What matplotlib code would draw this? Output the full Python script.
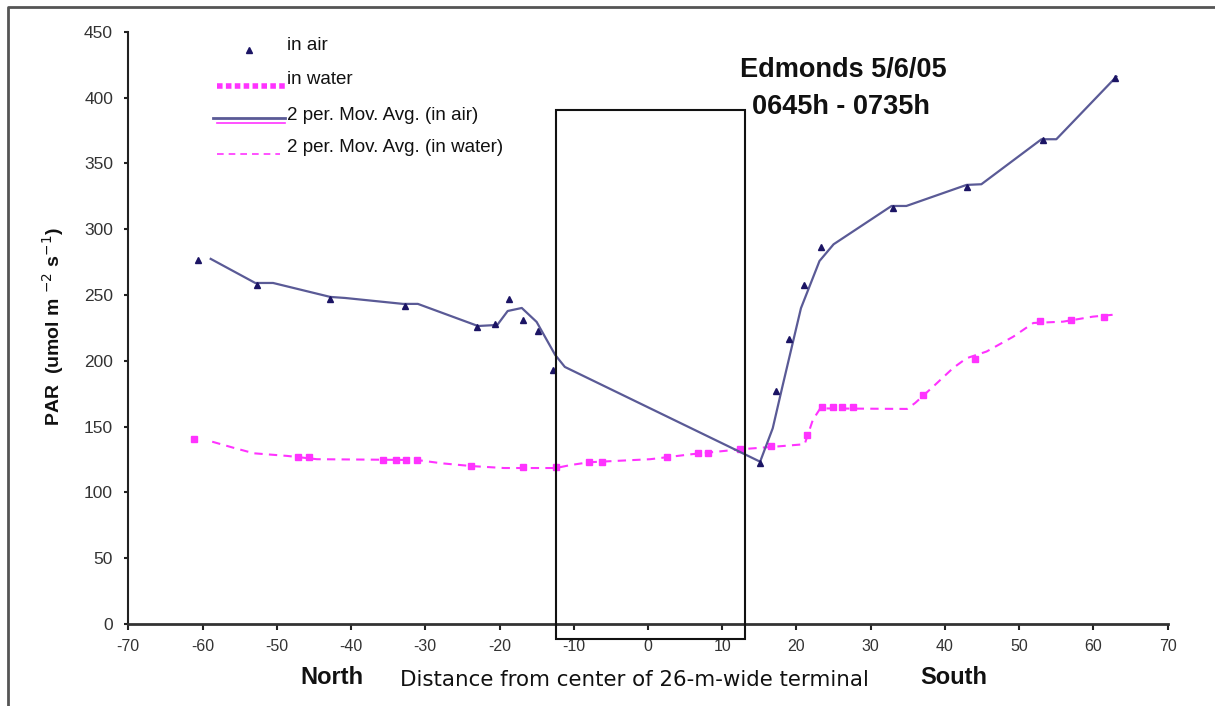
import matplotlib
matplotlib.use("Agg")
import matplotlib.pyplot as plt
from matplotlib.lines import Line2D
from matplotlib.patches import Rectangle

# ---------------- data ----------------
air_x = [-60.6, -52.7, -42.8, -32.7, -23.0, -20.6, -18.7, -16.8, -14.8, -12.8,
         15.1, 17.2, 19.0, 21.0, 23.3, 33.0, 43.0, 53.2, 62.9]
air_y = [276.6, 257.6, 247.0, 241.6, 225.7, 228.0, 247.0, 231.0, 222.6, 193.0,
         122.3, 177.0, 216.6, 257.6, 286.5, 316.0, 332.0, 367.8, 415.0]

air_ma_x = [-58.9, -52.9, -50.5, -42.8, -40.8, -33.0, -31.0, -22.9, -20.3, -18.9,
            -17.0, -15.0, -12.5, -11.2, 15.1, 16.8, 18.1, 20.6, 23.1, 25.0,
            32.8, 34.8, 42.9, 44.9, 53.0, 55.0, 63.1]
air_ma_y = [277.4, 259.1, 259.1, 248.5, 247.7, 243.2, 243.2, 226.4, 227.2, 237.8,
            240.1, 229.5, 204.4, 195.3, 123.3, 148.7, 180.3, 239.9, 275.8, 288.5,
            317.6, 317.6, 333.6, 334.1, 368.3, 368.3, 415.9]

water_x = [-61.1, -47.1, -45.6, -35.7, -33.9, -32.6, -31.1, -23.8, -16.8, -12.4,
           -7.9, -6.2, 2.5, 6.7, 8.1, 12.4, 16.6, 21.4, 23.4, 24.9, 26.1, 27.6,
           37.1, 44.0, 52.8, 57.0, 61.4]
water_y = [140.6, 126.7, 126.7, 124.6, 124.6, 124.6, 124.6, 120.0, 119.5, 119.5,
           122.9, 122.9, 126.7, 130.0, 130.0, 132.8, 135.3, 143.6, 164.7, 164.7,
           164.7, 164.7, 174.0, 201.4, 230.5, 231.0, 233.5]

water_ma_x = [-58.7, -55.9, -53.1, -48.6, -44.6, -31.1, -27.8, -23.8, -19.4, -12.4,
              -10.4, -7.9, 0.3, 5.9, 12.6, 16.6, 21.1, 22.2, 23.2, 34.9, 36.0,
              38.4, 41.1, 42.9, 45.6, 49.2, 51.9, 55.9, 59.9, 63.3]
water_ma_y = [138.5, 134.0, 129.7, 127.7, 125.2, 124.6, 122.1, 120.0, 118.5, 118.5,
              120.8, 122.9, 125.2, 129.0, 132.8, 134.5, 136.6, 155.0, 163.8, 163.4,
              168.0, 180.3, 194.5, 201.9, 207.0, 218.3, 228.7, 229.7, 233.5, 235.3]

terminal_x = [-12.4, 13.1]
terminal_y = [-11.4, 390.6]

x_ticks = list(range(-70, 71, 10))
y_ticks = list(range(0, 451, 50))

legend_labels = ["in air", "in water", "2 per. Mov. Avg. (in air)",
                 "2 per. Mov. Avg. (in water)"]
title_lines = ["Edmonds 5/6/05", "0645h - 0735h"]

# ---------------- style ----------------
W, H = 1215, 706
NAVY = "#1b1464"
MA_BLUE = "#5a5a96"
PINK = "#ff33ff"
FONT = "Liberation Sans"

plt.rcParams["font.family"] = [FONT, "DejaVu Sans"]
plt.rcParams["axes.unicode_minus"] = False

fig = plt.figure(figsize=(W / 100, H / 100), dpi=100)
fig.patch.set_facecolor("white")


def fx(px):
    return px / W


def fy(py):
    return 1 - py / H


ax_l, ax_r, ax_t, ax_b = 128.3, 1167.7, 31.7, 624.0
ax = fig.add_axes([fx(ax_l), fy(ax_b), fx(ax_r) - fx(ax_l), fy(ax_t) - fy(ax_b)])
ax.set_xlim(-70, 70)
ax.set_ylim(0, 450)
ax.set_facecolor("white")

for s in ["top", "right"]:
    ax.spines[s].set_visible(False)
ax.spines["left"].set_linewidth(1.5)
ax.spines["left"].set_color("#222222")
ax.spines["bottom"].set_linewidth(2.0)
ax.spines["bottom"].set_color("#333333")

ax.set_xticks(x_ticks)
ax.set_yticks(y_ticks)
ax.tick_params(axis="y", direction="out", length=3, width=1.5, pad=8,
               labelsize=12.5, labelcolor="#333333", color="#222222")
ax.tick_params(axis="x", direction="out", length=4, width=1.5, pad=7,
               labelsize=11.5, labelcolor="#333333", color="#222222")

# data series
ax.plot(water_ma_x, water_ma_y, color=PINK, lw=1.5, ls=(0, (4, 3)), zorder=2)
ax.plot(water_x, water_y, ls="none", marker="s", ms=5, color=PINK, mec=PINK, zorder=3)
ax.plot(air_ma_x, air_ma_y, color=MA_BLUE, lw=1.6, zorder=4)
ax.plot(air_x, air_y, ls="none", marker="^", ms=5, color=NAVY, mec=NAVY, zorder=5)

# terminal box
ax.add_patch(Rectangle((terminal_x[0], terminal_y[0]), terminal_x[1] - terminal_x[0],
                       terminal_y[1] - terminal_y[0], fill=False, ec="#111111",
                       lw=1.5, clip_on=False, zorder=6))

# y label
fig.text(fx(53), fy(327), "PAR  (umol m $^{-2}$ s$^{-1}$)", rotation=90,
         ha="center", va="center", fontsize=14, fontweight="bold", color="#111111")

# bottom labels
fig.text(fx(332), fy(677), "North", ha="center", va="center", fontsize=17,
         fontweight="bold", color="#111111")
fig.text(fx(400), fy(680), "Distance from center of 26-m-wide terminal", ha="left",
         va="center", fontsize=15.4, color="#111111", family="DejaVu Sans")
fig.text(fx(954), fy(677), "South", ha="center", va="center", fontsize=17,
         fontweight="bold", color="#111111")

# title
fig.text(fx(843), fy(70), title_lines[0], ha="center", va="center", fontsize=19.5,
         fontweight="bold", color="#111111")
fig.text(fx(841), fy(107), title_lines[1], ha="center", va="center", fontsize=19.5,
         fontweight="bold", color="#111111")

# manual legend
fig.add_artist(Line2D([fx(249)], [fy(50)], marker="^", ms=4.5, color=NAVY, ls="none"))
fig.add_artist(Line2D([fx(217), fx(285)], [fy(86), fy(86)], color=PINK, lw=4,
                      ls=(0, (1, 0.6))))
fig.add_artist(Line2D([fx(213), fx(285)], [fy(118), fy(118)], color=MA_BLUE, lw=2))
fig.add_artist(Line2D([fx(217), fx(285)], [fy(122.5), fy(122.5)], color=PINK, lw=1.2))
fig.add_artist(Line2D([fx(217), fx(280)], [fy(154), fy(154)], color=PINK, lw=1.2,
                      ls=(0, (4, 3))))
for lab, py in zip(legend_labels, [45, 80, 115, 148]):
    fig.text(fx(287), fy(py), lab, ha="left", va="center", fontsize=13.5,
             color="#111111")

# outer frame (left and top)
fig.add_artist(Line2D([fx(8), fx(8), fx(W + 5)], [fy(H + 5), fy(7), fy(7)],
                      color="#555555", lw=2))

fig.savefig("out.png", dpi=100)
